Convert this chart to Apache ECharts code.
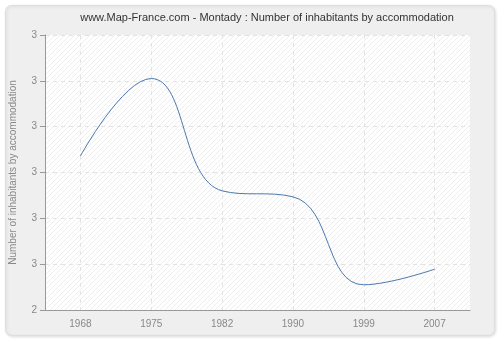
<!DOCTYPE html>
<html><head><meta charset="utf-8">
<script src="https://cdn.jsdelivr.net/npm/echarts@6/dist/echarts.min.js"></script>
<style>html,body{margin:0;padding:0;background:#fff}#c{width:500px;height:340px}</style>
</head><body><div id="c"></div>
<script>
const titleText = 'www.Map-France.com - Montady : Number of inhabitants by accommodation';
const yAxisName = 'Number of inhabitants by accommodation';
const categories = ['1968', '1975', '1982', '1990', '1999', '2007'];
const values = [2.736, 2.905, 2.66, 2.647, 2.455, 2.489];

// hatch pattern
const pc = document.createElement('canvas');
pc.width = 5; pc.height = 5;
const g = pc.getContext('2d');
g.fillStyle = '#ffffff'; g.fillRect(0,0,5,5);
g.strokeStyle = '#eeeeee'; g.lineWidth = 1;
g.beginPath();
g.moveTo(0,5); g.lineTo(5,0);
g.moveTo(-2.5,2.5); g.lineTo(2.5,-2.5);
g.moveTo(2.5,7.5); g.lineTo(7.5,2.5);
g.stroke();

const chart = echarts.init(document.getElementById('c'), null, {renderer:'canvas'});
chart.setOption({
  backgroundColor: '#ffffff',
  animation: false,
  graphic: [{
    type: 'rect', left: 5, top: 5, z: -10,
    shape: {width: 489, height: 330, r: 6},
    style: {fill: '#efefef', stroke: '#dedede', lineWidth: 1, shadowBlur: 3, shadowColor: 'rgba(0,0,0,0.12)', shadowOffsetX: 1, shadowOffsetY: 1}
  }, {
    type: 'text', x: 267, y: 18, z: 10,
    style: {text: titleText, align: 'center', verticalAlign: 'middle',
      font: '11px "Liberation Sans"', fill: '#333'}
  }],
  grid: {
    left: 40, top: 35, right: 30, bottom: 30,
    show: true, borderWidth: 0,
    backgroundColor: {image: pc, repeat: 'repeat'}
  },
  xAxis: {
    type: 'category', data: categories, boundaryGap: true,
    axisLine: {lineStyle: {color: '#999', width: 1}},
    axisTick: {alignWithLabel: true, length: 5, lineStyle: {color: '#999'}},
    axisLabel: {color: '#888', fontFamily: 'Liberation Sans', fontSize: 10, margin: 9},
    splitLine: {show: true, alignWithLabel: true, lineStyle: {color: '#e2e2e2', type: [4, 4]}}
  },
  yAxis: {
    type: 'value', min: 2.4, max: 3.0, interval: 0.1,
    name: yAxisName, nameLocation: 'middle', nameGap: 27,
    nameTextStyle: {color: '#888', fontFamily: 'Liberation Sans', fontSize: 10},
    axisLine: {show: true, lineStyle: {color: '#999', width: 1}},
    axisTick: {show: true, length: 5, lineStyle: {color: '#999'}},
    axisLabel: {color: '#888', fontFamily: 'Liberation Sans', fontSize: 10, margin: 8,
      formatter: v => String(Math.round(v + 1e-9))},
    splitLine: {show: true, lineStyle: {color: '#e2e2e2', type: [4, 4]}}
  },
  series: [{
    type: 'line', data: values, smooth: 0.45, showSymbol: false,
    lineStyle: {color: '#4a78b0', width: 1}
  }]
});
</script></body></html>
